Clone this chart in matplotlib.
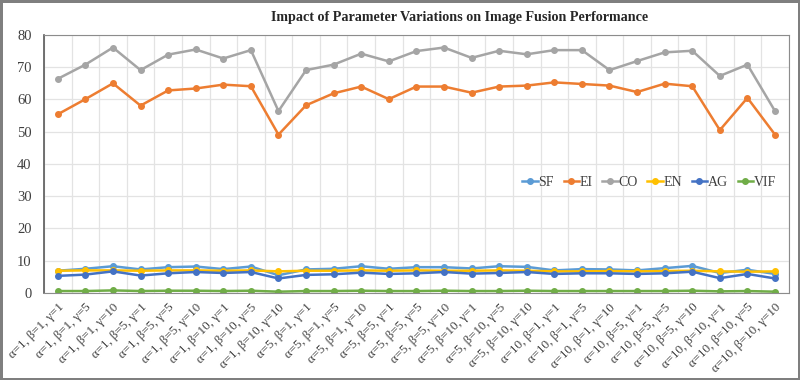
import matplotlib
matplotlib.use("Agg")
import matplotlib.pyplot as plt
import numpy as np

alphas = [1, 5, 10]
betas = [1, 5, 10]
gammas = [1, 5, 10]
categories = []
for a in alphas:
    for b in betas:
        for g in gammas:
            categories.append("α=%d, β=%d, γ=%d" % (a, b, g))

sf = [6.9, 7.5, 8.3, 7.3, 8.0, 8.2, 7.4, 8.2, 5.5,
      7.3, 7.5, 8.3, 7.5, 8.0, 8.0, 7.6, 8.3, 8.1,
      7.0, 7.4, 7.3, 7.0, 7.7, 8.4, 6.2, 7.2, 5.9]
ei = [55.4, 60.1, 65.0, 58.1, 62.8, 63.4, 64.6, 64.1, 49.1,
      58.2, 61.9, 64.0, 60.1, 64.0, 64.0, 62.1, 64.0, 64.3,
      65.3, 64.8, 64.3, 62.3, 64.9, 64.1, 50.5, 60.5, 49.1]
co = [66.4, 70.8, 76.1, 69.1, 73.9, 75.5, 72.7, 75.3, 56.4,
      69.1, 70.8, 74.2, 71.8, 75.0, 76.1, 72.9, 75.1, 74.0,
      75.3, 75.3, 69.1, 71.9, 74.6, 75.1, 67.3, 70.8, 56.4]
en = [6.9, 7.0, 7.0, 6.9, 7.0, 7.0, 6.9, 7.0, 6.7,
      6.9, 6.9, 7.0, 6.9, 7.0, 6.9, 6.9, 7.0, 6.9,
      6.7, 6.7, 6.8, 6.7, 6.8, 6.9, 6.7, 6.6, 6.7]
ag = [5.3, 5.7, 6.7, 5.4, 6.1, 6.5, 6.2, 6.5, 4.5,
      5.6, 5.8, 6.3, 5.9, 6.1, 6.5, 6.0, 6.2, 6.5,
      5.9, 6.1, 6.1, 5.9, 6.1, 6.6, 4.6, 5.9, 4.5]
vif = [0.6, 0.6, 0.8, 0.6, 0.7, 0.7, 0.6, 0.7, 0.4,
       0.6, 0.6, 0.7, 0.6, 0.6, 0.7, 0.6, 0.6, 0.7,
       0.6, 0.6, 0.6, 0.6, 0.6, 0.7, 0.5, 0.6, 0.4]

names = ["SF", "EI", "CO", "EN", "AG", "VIF"]
series = [sf, ei, co, en, ag, vif]
colors = ["#5B9BD5", "#ED7D31", "#A5A5A5", "#FFC000", "#4472C4", "#70AD47"]

plt.rcParams['font.family'] = ['Liberation Serif', 'DejaVu Serif']

fig = plt.figure(figsize=(8, 3.8), dpi=100)
fig.patch.set_edgecolor("#7f7f7f")
fig.patch.set_linewidth(2.5)
ax = fig.add_axes([0.055, 0.229, 0.931, 0.679])

x = np.arange(len(categories))
for vals, name, col in zip(series, names, colors):
    ax.plot(x, vals, color=col, lw=1.8, marker="o", ms=4, label=name)

ax.set_xlim(-0.5, len(categories) - 0.5)
ax.set_ylim(0, 80)
ax.set_yticks(np.arange(0, 81, 10))
ax.set_xticks(x)
ax.set_xticklabels(categories, rotation=45, ha="right", rotation_mode="anchor", fontsize=9.3)
ax.set_xticks(np.arange(-0.5, len(categories), 1), minor=True)
ax.tick_params(axis="both", which="both", length=0, labelsize=10.5, colors="#404040")
ax.tick_params(axis="x", pad=6, labelsize=9.3)
ax.tick_params(axis="y", pad=9)
ax.grid(axis="y", which="major", color="#e3e3e3", lw=0.9)
ax.grid(axis="x", which="minor", color="#e3e3e3", lw=0.9)
ax.set_axisbelow(True)
for side in ["top", "right", "bottom"]:
    ax.spines[side].set_color("#8c8c8c")
ax.spines["left"].set_color("#595959")
ax.spines["left"].set_linewidth(1.2)

ax.legend(loc="center right", bbox_to_anchor=(0.99, 0.43), ncol=6, frameon=False,
          fontsize=10, handlelength=1.1, handletextpad=0.05, columnspacing=0.7,
          labelcolor="#404040", borderaxespad=0)

fig.text(0.574, 0.955, "Impact of Parameter Variations on Image Fusion Performance",
         ha="center", va="center", fontsize=10.2, fontweight="bold", color="#262626")

fig.savefig("out.png", dpi=100, edgecolor=fig.get_edgecolor())
